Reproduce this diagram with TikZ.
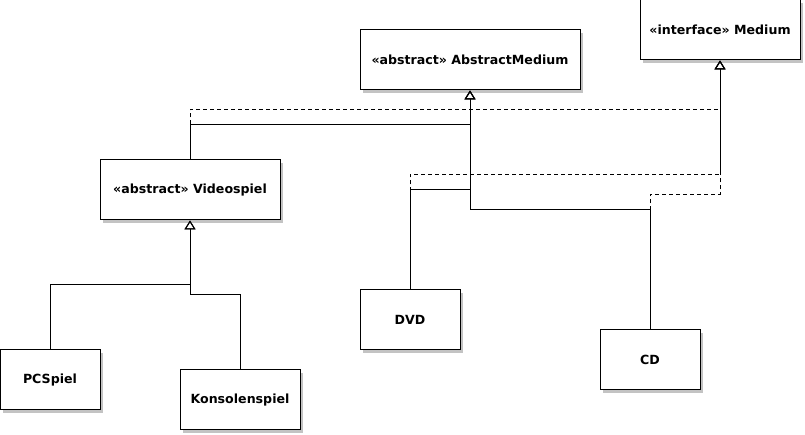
\documentclass[tikz,border=0pt]{standalone}
\usepackage{fontspec}
\setmainfont{DejaVu Sans}
\usepackage{tikz}
\usetikzlibrary{arrows.meta,shadows}
\definecolor{shadowgray}{RGB}{195, 195, 195}

\begin{document}
\begin{tikzpicture}[x=10pt, y=10pt,
  umlclass/.style={draw, line width=1pt, fill=white, inner sep=0pt, minimum height=60pt,
    font=\fontsize{12.6}{14}\selectfont\bfseries,
    drop shadow={shadow xshift=3pt, shadow yshift=-3pt, fill=shadowgray, opacity=1}},
  extends/.style={line width=1pt, -{Triangle[open, width=11pt, length=9pt]}},
  implements/.style={extends, dash pattern=on 4pt off 3pt}]
\useasboundingbox (0,0) rectangle (80.5,43.5);

\node (abstractmedium) at (47,37.5) [umlclass, minimum width=220pt] {«abstract» AbstractMedium};
\node (medium) at (72,40.5) [umlclass, minimum width=160pt] {«interface» Medium};
\node (videospiel) at (19,24.5) [umlclass, minimum width=180pt] {«abstract» Videospiel};
\node (pcspiel) at (5,5.5) [umlclass, minimum width=100pt] {PCSpiel};
\node (konsolenspiel) at (24,3.5) [umlclass, minimum width=120pt] {Konsolenspiel};
\node (dvd) at (41,11.5) [umlclass, minimum width=100pt] {DVD};
\node (cd) at (65,7.5) [umlclass, minimum width=100pt] {CD};

% interface
\draw [implements] (videospiel.north) -- ++(0,5) -| (medium.south);
\draw [implements] (dvd.north) -- ++(0,11.5) -| (medium.south);
\draw [implements] (cd.north) -- ++(0,13.5) -| (medium.south);

% inheritance
\draw [extends] (videospiel.north) -- ++(0,3.5) -| (abstractmedium.south);
\draw [extends] (dvd.north) -- ++(0,10) -| (abstractmedium.south);
\draw [extends] (cd.north) -- ++(0,12) -| (abstractmedium.south);
\draw [extends] (pcspiel.north) -- ++(0,6.5) -| (videospiel.south);
\draw [extends] (konsolenspiel.north) -- ++(0,7.5) -| (videospiel.south);
\end{tikzpicture}
\end{document}
